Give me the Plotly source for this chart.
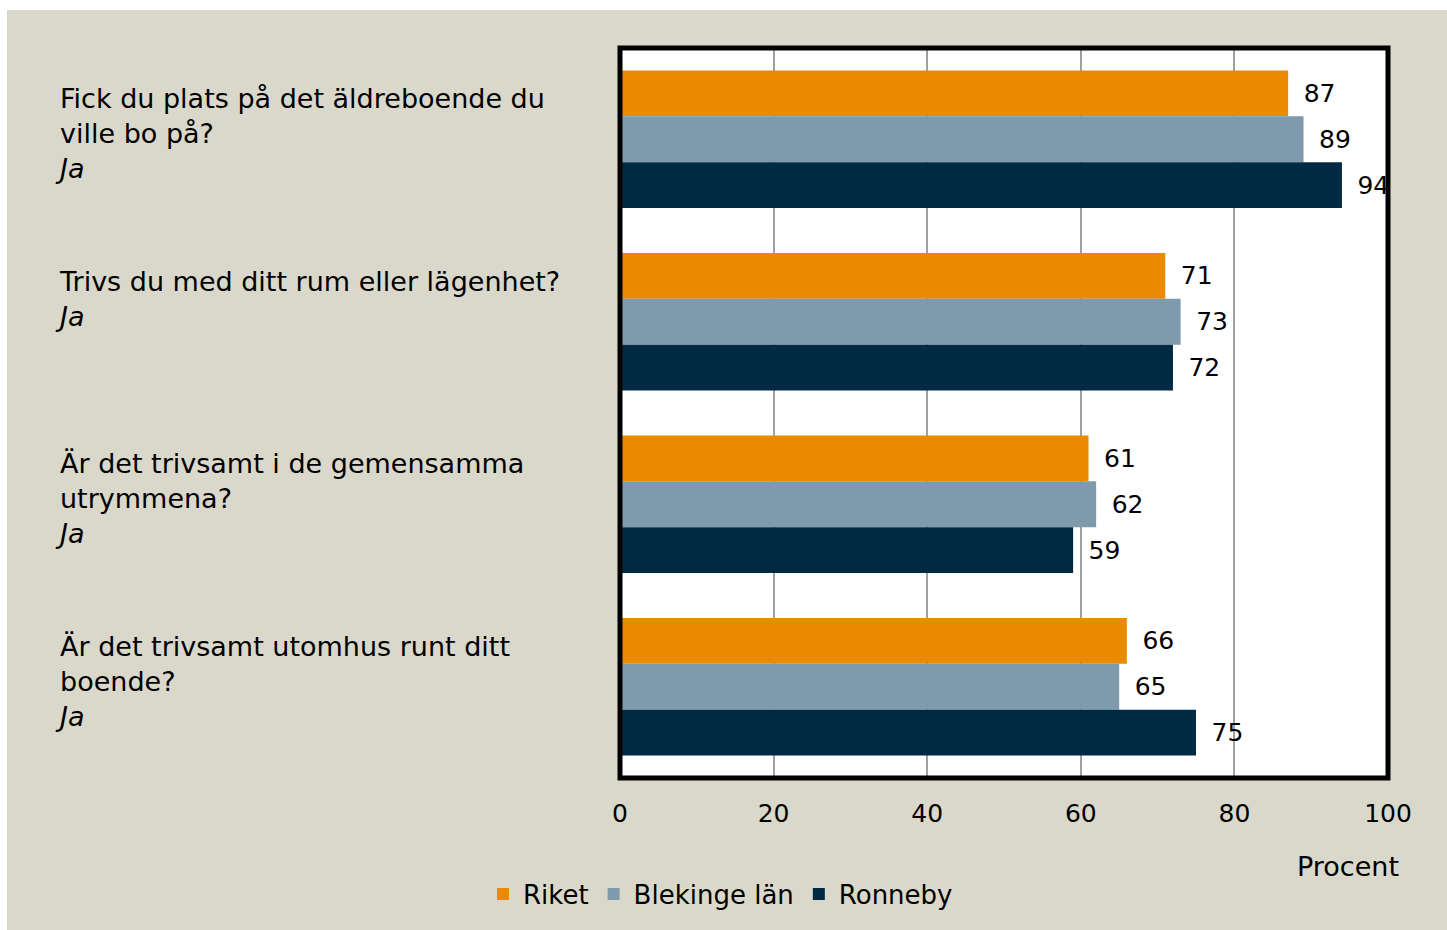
import plotly.graph_objects as go

questions = [
    "Fick du plats på det äldreboende du<br>ville bo på?<br><i>Ja</i>",
    "Trivs du med ditt rum eller lägenhet?<br><i>Ja</i>",
    "Är det trivsamt i de gemensamma<br>utrymmena?<br><i>Ja</i>",
    "Är det trivsamt utomhus runt ditt<br>boende?<br><i>Ja</i>",
]
cats = ["q1", "q2", "q3", "q4"]
series_names = ["Riket", "Blekinge län", "Ronneby"]
riket = [87, 71, 61, 66]
blekinge = [89, 73, 62, 65]
ronneby = [94, 72, 59, 75]
colors = ["#EA8A00", "#7E9AAC", "#002A43"]
x_ticks = [0, 20, 40, 60, 80, 100]

FONT = "DejaVu Sans"
BEIGE = "#DAD8CB"

fig = go.Figure()
for name, vals, col in zip(series_names, [riket, blekinge, ronneby], colors):
    fig.add_trace(go.Bar(
        y=cats, x=vals, orientation="h", name=name,
        marker=dict(color=col, line=dict(width=0)),
        text=vals, texttemplate="\u2002%{x}", textposition="outside",
        textfont=dict(family=FONT, size=25, color="#000000"),
        cliponaxis=False, constraintext="none",
    ))

W, H = 1447, 930
L, R, T, B = 620, 1388, 48, 778
pw, ph = R - L, B - T

def px(x):
    return (x - L) / pw

def py(y):
    return (B - y) / ph

annotations = []
for c, q in zip(cats, questions):
    annotations.append(dict(
        x=px(53), xref="paper", y=c, yref="y", xanchor="left", yanchor="top",
        yshift=58, text=q, showarrow=False, align="left",
        font=dict(family=FONT, size=27, color="#000000"),
    ))
annotations.append(dict(
    x=px(1401), xref="paper", y=py(866), yref="paper", xanchor="right", yanchor="middle",
    text="Procent", showarrow=False, font=dict(family=FONT, size=27, color="#000000"),
))

shapes = [
    dict(type="rect", xref="paper", yref="paper", x0=px(-5), x1=px(W + 5), y0=py(10), y1=py(-5),
         fillcolor="white", line=dict(width=0), layer="above"),
    dict(type="rect", xref="paper", yref="paper", x0=px(-5), x1=px(7), y0=py(H + 5), y1=py(-5),
         fillcolor="white", line=dict(width=0), layer="above"),
    # plot frame
    dict(type="rect", xref="paper", yref="paper", x0=0, x1=1, y0=0, y1=1,
         fillcolor="rgba(0,0,0,0)", line=dict(width=5, color="#000000"), layer="above"),
]

fig.update_layout(
    width=W, height=H,
    margin=dict(l=L, r=W - R, t=T, b=H - B, pad=0),
    paper_bgcolor=BEIGE, plot_bgcolor="white",
    barmode="group", bargap=0.247, bargroupgap=0,
    font=dict(family=FONT, size=25, color="#000000"),
    showlegend=True,
    legend=dict(orientation="h", x=px(483), xanchor="left", y=py(894), yanchor="middle",
                font=dict(family=FONT, size=26, color="#000000"), bgcolor="rgba(0,0,0,0)",
                itemwidth=30, traceorder="normal"),
    annotations=annotations, shapes=shapes,
)
fig.update_xaxes(range=[0, 100], tickvals=x_ticks, showgrid=True, gridcolor="#A0A0A0", gridwidth=2,
                 showline=False, zeroline=False, ticks="", ticklabelstandoff=18,
                 tickfont=dict(family=FONT, size=25, color="#000000"))
fig.update_yaxes(autorange="reversed", showticklabels=False, showgrid=False,
                 showline=False, zeroline=False, ticks="")

fig.write_html("out.html", config={"displayModeBar": False},
               post_script="document.body.style.margin='0';document.body.style.overflow='hidden';")
